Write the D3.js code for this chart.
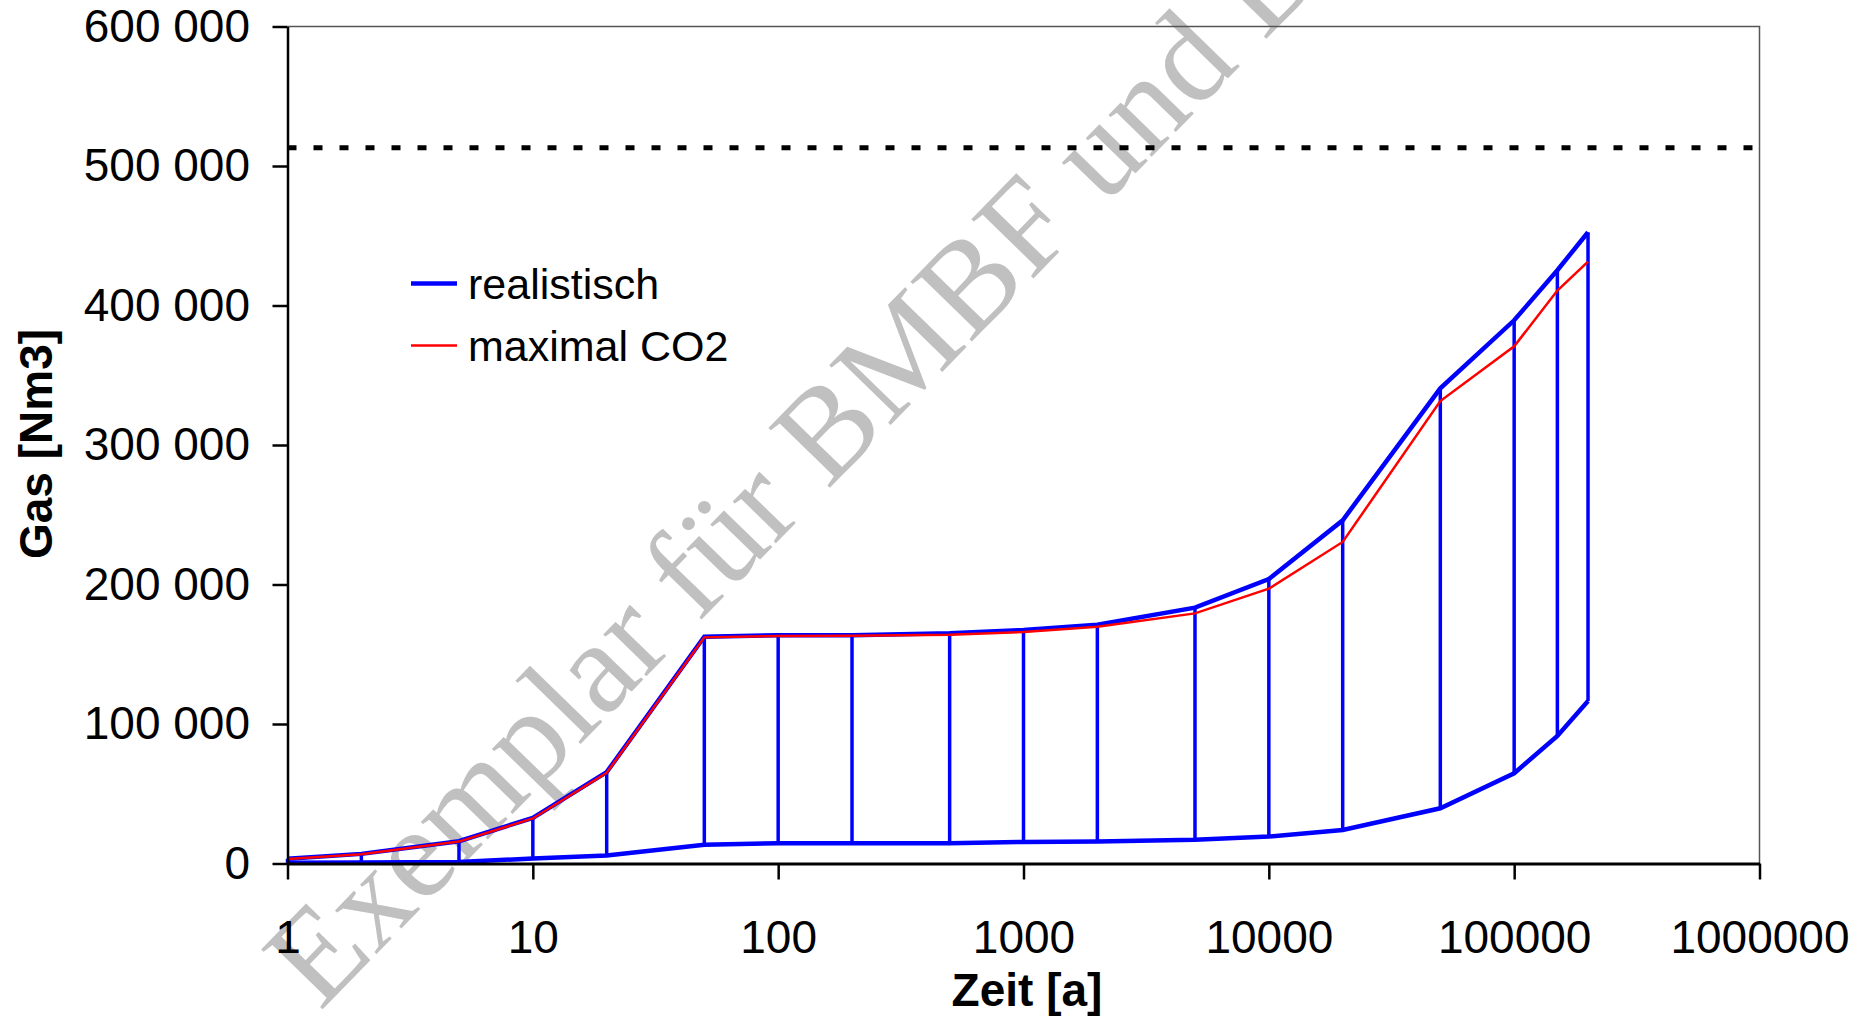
<!DOCTYPE html>
<html><head><meta charset="utf-8">
<script src="https://cdn.jsdelivr.net/npm/d3@7"></script>
<style>html,body{margin:0;padding:0;background:#fff;} svg{display:block;}</style>
</head><body>
<svg id="chart" width="1869" height="1020"></svg>
<script>
// ---- data ----
const years = [1, 2, 5, 10, 20, 50, 100, 200, 500, 1000, 2000, 5000, 10000, 20000, 50000, 100000, 150000, 200000];
const realistischUpper = [3400, 6900, 16000, 32700, 65500, 162600, 163600, 163700, 165000, 167400, 171200, 183400, 203900, 246000, 340600, 389400, 425300, 452500];
const realistischLower = [500, 700, 1000, 3600, 5700, 13500, 14600, 14600, 14600, 15500, 15700, 17000, 19300, 24000, 39600, 64700, 91400, 116500];
const maximalCO2 = [3300, 6700, 15700, 32300, 65000, 162100, 163100, 163300, 164000, 165900, 169700, 179300, 197000, 230500, 331500, 370700, 410700, 431500];
const limitValue = 513000;
const xTickValues = [1, 10, 100, 1000, 10000, 100000, 1000000];
const yTickValues = [0, 100000, 200000, 300000, 400000, 500000, 600000];
const legendLabels = ["realistisch", "maximal CO2"];
const xTitle = "Zeit [a]";
const yTitle = "Gas [Nm3]";
const watermarkText = "Exemplar für BMBF und BMU";

// ---- layout ----
const svg = d3.select("#chart");
const pL = 287.5, pR = 1759.5, pT = 26.5, pB = 863.5;
const x = d3.scaleLog().domain([1, 1000000]).range([pL, pR]);
const y = d3.scaleLinear().domain([0, 600000]).range([pB, pT]);
const sans = "'Liberation Sans', Arial, sans-serif";
const BLUE = "#0000ff", RED = "#ff0000";

// watermark (behind)
svg.append("text")
  .attr("transform", "translate(320,1012) rotate(-45.8)")
  .attr("font-family", "'Liberation Serif', 'Times New Roman', serif")
  .attr("font-size", 131)
  .attr("fill", "#c0c0c0")
  .text(watermarkText);

// frame (top and right)
svg.append("path")
  .attr("d", `M${pL},${pT}H${pR}V${pB}`)
  .attr("fill", "none").attr("stroke", "#555").attr("stroke-width", 1.5);

// dotted limit line
svg.append("line")
  .attr("x1", pL).attr("x2", pR)
  .attr("y1", y(limitValue)).attr("y2", y(limitValue))
  .attr("stroke", "#000").attr("stroke-width", 5)
  .attr("stroke-dasharray", "9,17");

const pts = years.map((t, i) => ({t, up: realistischUpper[i], lo: realistischLower[i], co2: maximalCO2[i]}));

// vertical connectors
svg.append("g").selectAll("line").data(pts).join("line")
  .attr("x1", d => x(d.t)).attr("x2", d => x(d.t))
  .attr("y1", d => y(d.lo)).attr("y2", d => y(d.up))
  .attr("stroke", BLUE).attr("stroke-width", 3.5);

const line = key => d3.line().x(d => x(d.t)).y(d => y(d[key]));
svg.append("path").datum(pts).attr("d", line("lo"))
  .attr("fill", "none").attr("stroke", BLUE).attr("stroke-width", 4.5);
svg.append("path").datum(pts).attr("d", line("up"))
  .attr("fill", "none").attr("stroke", BLUE).attr("stroke-width", 4.5);
svg.append("path").datum(pts).attr("d", line("co2"))
  .attr("fill", "none").attr("stroke", RED).attr("stroke-width", 2.5);

// axes
const loc = d3.formatLocale({decimal: ",", thousands: " ", grouping: [3], currency: ["", ""]});
const yAxis = d3.axisLeft(y).tickValues(yTickValues).tickFormat(loc.format(",d"))
  .tickSize(15).tickSizeOuter(0).tickPadding(22.5);
const gy = svg.append("g").attr("transform", `translate(${pL},0)`).call(yAxis);
gy.select(".domain").attr("stroke", "#000").attr("stroke-width", 2.5);
gy.selectAll(".tick line").attr("stroke", "#000").attr("stroke-width", 2.5);
gy.selectAll(".tick text").attr("font-family", sans).attr("font-size", 46).attr("fill", "#000");

const xAxis = d3.axisBottom(x).tickValues(xTickValues).tickFormat(d3.format("d"))
  .tickSize(16).tickSizeOuter(0).tickPadding(41);
const gx = svg.append("g").attr("transform", `translate(0,${pB})`).call(xAxis);
gx.select(".domain").attr("stroke", "#000").attr("stroke-width", 3);
gx.selectAll(".tick line").attr("stroke", "#000").attr("stroke-width", 2.5);
gx.selectAll(".tick text").attr("font-family", sans).attr("font-size", 46).attr("fill", "#000");

// titles
svg.append("text").attr("x", 1027).attr("y", 1006)
  .attr("text-anchor", "middle").attr("font-family", sans)
  .attr("font-weight", "bold").attr("font-size", 46).text(xTitle);
svg.append("text").attr("transform", "translate(52,444) rotate(-90)")
  .attr("text-anchor", "middle").attr("font-family", sans)
  .attr("font-weight", "bold").attr("font-size", 46).text(yTitle);

// legend
const legendColors = [BLUE, RED];
const legendWidths = [4.5, 2.5];
const lg = svg.append("g");
legendLabels.forEach((lab, i) => {
  const ly = 283.5 + i * 62;
  lg.append("line").attr("x1", 411).attr("x2", 457).attr("y1", ly).attr("y2", ly)
    .attr("stroke", legendColors[i]).attr("stroke-width", legendWidths[i]);
  lg.append("text").attr("x", 468).attr("y", ly + 15.5)
    .attr("font-family", sans).attr("font-size", 43).attr("fill", "#000").text(lab);
});
</script>
</body></html>
